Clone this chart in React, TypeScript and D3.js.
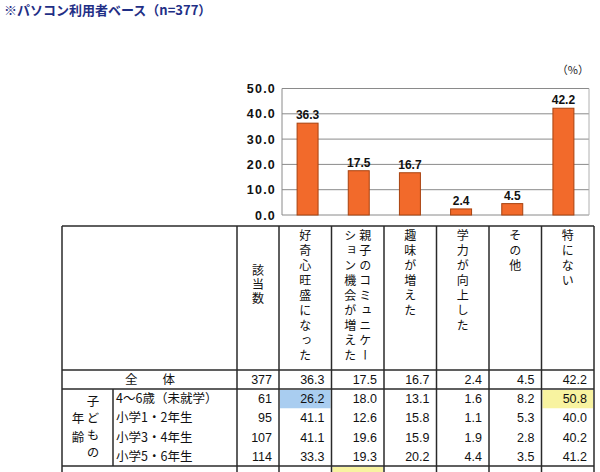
import React, { useEffect, useRef } from 'react';
import * as d3 from 'd3';

const categories = [
   '好奇心旺盛になった',
   '親子のコミュニケーション機会が増えた',
   '趣味が増えた',
   '学力が向上した',
   'その他',
   '特にない',
];
const overallValues = [36.3, 17.5, 16.7, 2.4, 4.5, 42.2];
const overallCount = 377;
const yTicks = [0, 10, 20, 30, 40, 50];

const groupLabels = ['4～6歳（未就学）', '小学1・2年生', '小学3・4年生', '小学5・6年生'];
const groupCounts = [61, 95, 107, 114];
const groupValues = [
   [26.2, 18.0, 13.1, 1.6, 8.2, 50.8],
   [41.1, 12.6, 15.8, 1.1, 5.3, 40.0],
   [41.1, 19.6, 15.9, 1.9, 2.8, 40.2],
   [33.3, 19.3, 20.2, 4.4, 3.5, 41.2],
];
// [row, column, colour] highlighted cells
const highlights: [number, number, string][] = [
   [0, 0, '#a9cdf0'],
   [0, 5, '#f8f3a0'],
];

const W = 600;
const H = 472;
const JP = '"Noto Sans CJK JP", sans-serif';
const NUM = '"Liberation Sans", Arial, sans-serif';

const App: React.FC = () => {
   const svgRef = useRef<SVGSVGElement | null>(null);

   useEffect(() => {
      if (!svgRef.current) return;
      const svg = d3.select(svgRef.current);
      svg.selectAll('*').remove();

      // title
      svg.append('text')
         .attr('x', 4)
         .attr('y', 15)
         .attr('font-family', JP)
         .attr('font-size', 13)
         .attr('font-weight', 'bold')
         .attr('fill', '#1f2f86')
         .text(`※パソコン利用者ベース（n=${overallCount}）`);

      // ---- bar chart ----
      const plot = { left: 282, right: 589, top: 88.5, bottom: 215 };
      const x = d3.scaleBand().domain(categories).range([plot.left, plot.right]).paddingInner(0.59).paddingOuter(0.295);
      const y = d3.scaleLinear().domain([0, 50]).range([plot.bottom, plot.top]);

      svg.append('text')
         .attr('x', 589)
         .attr('y', 74)
         .attr('text-anchor', 'end')
         .attr('font-family', JP)
         .attr('font-size', 11)
         .attr('fill', '#222')
         .text('（%）');

      const grid = svg.append('g');
      grid.selectAll('line')
         .data(yTicks)
         .enter()
         .append('line')
         .attr('x1', plot.left)
         .attr('x2', plot.right)
         .attr('y1', d => y(d))
         .attr('y2', d => y(d))
         .attr('stroke', '#8a8a8a')
         .attr('stroke-width', 1);
      svg.append('line')
         .attr('x1', plot.left).attr('x2', plot.left)
         .attr('y1', plot.top).attr('y2', plot.bottom)
         .attr('stroke', '#8a8a8a');
      svg.append('line')
         .attr('x1', plot.right).attr('x2', plot.right)
         .attr('y1', plot.top).attr('y2', plot.bottom)
         .attr('stroke', '#b0b0b0');

      svg.append('g')
         .selectAll('text')
         .data(yTicks)
         .enter()
         .append('text')
         .attr('x', 276)
         .attr('y', d => y(d) + 4.5)
         .attr('text-anchor', 'end')
         .attr('font-family', NUM)
         .attr('font-size', 12.5)
         .attr('font-weight', 'bold')
         .attr('letter-spacing', 1.2)
         .attr('fill', '#111')
         .text(d => d.toFixed(1));

      svg.append('g')
         .selectAll('rect')
         .data(overallValues)
         .enter()
         .append('rect')
         .attr('x', (_, i) => x(categories[i])!)
         .attr('y', d => y(d))
         .attr('width', x.bandwidth())
         .attr('height', d => plot.bottom - y(d))
         .attr('fill', '#f26a2b')
         .attr('stroke', '#a8420f')
         .attr('stroke-width', 1);

      svg.append('g')
         .selectAll('text')
         .data(overallValues)
         .enter()
         .append('text')
         .attr('x', (_, i) => x(categories[i])! + x.bandwidth() / 2)
         .attr('y', d => y(d) - 4)
         .attr('text-anchor', 'middle')
         .attr('font-family', NUM)
         .attr('font-size', 12)
         .attr('font-weight', 'bold')
         .attr('fill', '#111')
         .text(d => d.toFixed(1));

      // ---- table ----
      const t = { left: 62, labelSplit: 113, countLeft: 237, countRight: 279, right: 594, top: 226, headBottom: 370, totalBottom: 389, groupBottom: 466 };
      const rowH = (t.groupBottom - t.totalBottom) / groupLabels.length;
      const col = d3.scaleBand().domain(categories).range([t.countRight, t.right]);

      const table = svg.append('g');

      // highlighted cells
      table.selectAll('rect.hl')
         .data(highlights)
         .enter()
         .append('rect')
         .attr('class', 'hl')
         .attr('x', d => col(categories[d[1]])! + 1)
         .attr('y', d => t.totalBottom + d[0] * rowH + 1)
         .attr('width', col.bandwidth() - 2)
         .attr('height', rowH - 1)
         .attr('fill', d => d[2]);
      // start of next (cut off) row
      table.append('rect')
         .attr('x', col(categories[1])! + 1)
         .attr('y', t.groupBottom + 1)
         .attr('width', col.bandwidth() - 2)
         .attr('height', H - t.groupBottom)
         .attr('fill', '#f8f3a0');

      const lineColor = '#2a2a2a';
      const hLines = [t.top, t.headBottom, t.totalBottom, t.groupBottom];
      table.selectAll('line.h')
         .data(hLines)
         .enter()
         .append('line')
         .attr('x1', t.left)
         .attr('x2', t.right)
         .attr('y1', d => d)
         .attr('y2', d => d)
         .attr('stroke', lineColor)
         .attr('stroke-width', 1.5);

      const vEdges = [t.left, t.countLeft, ...categories.map(c => col(c)!), t.right];
      table.selectAll('line.v')
         .data(vEdges)
         .enter()
         .append('line')
         .attr('x1', d => d)
         .attr('x2', d => d)
         .attr('y1', t.top)
         .attr('y2', H)
         .attr('stroke', lineColor)
         .attr('stroke-width', 1.5);
      table.append('line')
         .attr('x1', t.labelSplit).attr('x2', t.labelSplit)
         .attr('y1', t.totalBottom).attr('y2', t.groupBottom)
         .attr('stroke', lineColor)
         .attr('stroke-width', 1.5);

      // vertical header text
      const vText = (g: d3.Selection<SVGGElement, unknown, null, undefined>, str: string, cx: number, top: number, spacing: number) => {
         g.append('text')
            .attr('x', cx)
            .attr('y', top)
            .attr('writing-mode', 'vertical-rl')
            .attr('font-family', JP)
            .attr('font-size', 12)
            .attr('letter-spacing', spacing)
            .attr('fill', '#111')
            .text(str);
      };
      const head = svg.append('g');
      vText(head, '該当数', (t.countLeft + t.countRight) / 2, 264, 2);
      categories.forEach(c => {
         const cx = col(c)! + col.bandwidth() / 2;
         const perCol = 9;
         const chunks: string[] = [];
         for (let i = 0; i < c.length; i += perCol) chunks.push(c.slice(i, i + perCol));
         chunks.forEach((s, k) => {
            const off = (chunks.length - 1) * 7.5 - k * 15;
            vText(head, s, cx + off, 229, 3);
         });
      });

      // total row
      const body = svg.append('g');
      const numText = (xr: number, yb: number, v: string) => {
         body.append('text')
            .attr('x', xr)
            .attr('y', yb)
            .attr('text-anchor', 'end')
            .attr('font-family', NUM)
            .attr('font-size', 12.5)
            .attr('fill', '#111')
            .text(v);
      };
      const totalBase = (t.headBottom + t.totalBottom) / 2 + 4.5;
      body.append('text')
         .attr('x', 150)
         .attr('y', totalBase)
         .attr('text-anchor', 'middle')
         .attr('font-family', JP)
         .attr('font-size', 12.5)
         .attr('fill', '#111')
         .text('全　　体');
      numText(t.countRight - 7, totalBase, String(overallCount));
      overallValues.forEach((v, i) => numText(col(categories[i])! + col.bandwidth() - 7, totalBase, v.toFixed(1)));

      groupLabels.forEach((lab, r) => {
         const base = t.totalBottom + (r + 0.5) * rowH + 4.5;
         body.append('text')
            .attr('x', t.labelSplit + 3)
            .attr('y', base)
            .attr('font-family', JP)
            .attr('font-size', 12.5)
            .attr('fill', '#111')
            .text(lab);
         numText(t.countRight - 7, base, String(groupCounts[r]));
         groupValues[r].forEach((v, i) => numText(col(categories[i])! + col.bandwidth() - 7, base, v.toFixed(1)));
      });

      const side = svg.append('g');
      side.append('text')
         .attr('x', 93).attr('y', 395)
         .attr('writing-mode', 'vertical-rl')
         .attr('font-family', JP).attr('font-size', 12.5)
         .attr('letter-spacing', 4.5)
         .attr('fill', '#111')
         .text('子どもの');
      side.append('text')
         .attr('x', 78).attr('y', 412)
         .attr('writing-mode', 'vertical-rl')
         .attr('font-family', JP).attr('font-size', 12.5)
         .attr('letter-spacing', 6)
         .attr('fill', '#111')
         .text('年齢');
   }, []);

   return (
      <svg
         ref={svgRef}
         width={W}
         height={H}
         viewBox={`0 0 ${W} ${H}`}
         style={{ position: 'absolute', left: 0, top: 0, background: '#fff' }}
      />
   );
};

export default App;
